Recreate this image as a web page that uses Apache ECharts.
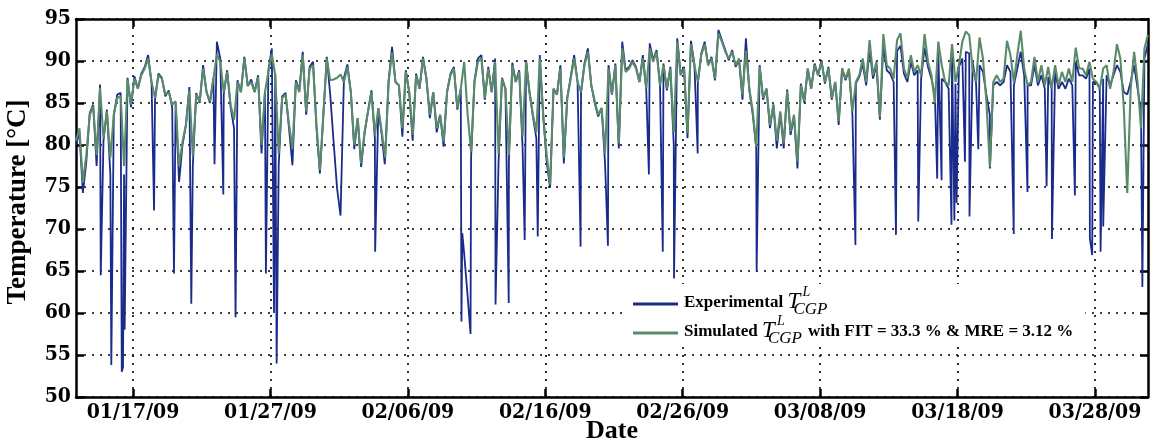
<!DOCTYPE html>
<html><head><meta charset="utf-8">
<script src="https://cdn.jsdelivr.net/npm/echarts@6/dist/echarts.min.js"></script>
<style>html,body{margin:0;padding:0;background:#fff}#c{width:1151px;height:445px}</style>
</head><body><div id="c"></div>
<script>
// x values are days since 2009-01-01 00:00
const sampleStartDay = 11.85;
const sampleStepDays = 0.25;

const simulated = [
80.5,82.0,75.5,78.8,83.6,84.6,78.8,86.8,80.8,84.0,
78.5,83.6,85.6,85.8,77.5,87.8,84.8,87.9,86.7,88.3,
89.1,90.3,87.5,85.6,88.3,87.9,86.0,86.3,84.8,85.2,
77.5,80.4,82.4,86.5,78.8,86.0,85.2,89.1,86.3,85.2,
87.9,90.8,89.9,86.3,88.7,84.8,83.0,87.5,86.3,90.3,
87.1,87.5,86.3,88.1,80.0,86.3,88.7,90.8,88.3,79.0,
85.6,86.0,82.5,79.5,87.5,86.3,90.7,84.0,89.1,89.5,
82.4,77.0,83.6,90.3,87.7,87.8,88.0,88.4,87.5,89.3,
86.3,80.0,83.2,77.8,81.6,84.0,86.3,81.2,84.4,81.6,
78.5,87.5,91.0,87.5,87.1,82.0,88.7,86.3,81.2,88.3,
86.7,90.3,87.9,83.6,86.3,82.0,83.6,80.4,86.3,88.3,
89.1,84.4,86.7,89.9,83.6,79.2,87.5,89.9,90.3,85.6,
89.1,86.3,89.9,79.0,87.9,86.7,78.8,89.5,87.5,88.7,
81.0,89.9,86.3,83.6,81.5,90.3,83.6,78.8,75.3,86.7,
86.0,89.1,78.5,85.6,87.9,90.3,87.5,86.3,89.5,91.1,
87.1,85.2,83.6,84.4,79.0,89.1,86.0,89.5,80.2,91.5,
88.7,89.1,89.9,89.1,87.5,90.3,86.7,91.5,89.9,91.1,
87.1,89.5,86.7,89.1,81.5,92.3,88.3,89.1,81.4,92.0,
89.5,87.5,90.7,92.0,89.5,90.3,87.9,93.3,92.3,91.1,
90.3,91.1,89.5,90.3,86.0,91.2,86.7,84.0,79.8,89.3,
85.6,86.7,82.4,84.8,80.5,84.0,80.2,86.4,81.6,83.6,
78.0,87.1,85.2,89.1,86.7,89.5,88.3,89.9,87.5,89.1,
85.6,87.5,82.8,89.1,87.9,89.1,84.0,87.5,88.3,90.3,
87.5,92.5,88.3,89.9,83.3,93.2,89.5,89.1,87.9,92.5,
93.3,89.1,87.9,90.7,88.7,89.5,88.3,93.2,89.9,88.3,
85.0,92.3,89.5,87.5,87.1,92.0,87.5,89.5,92.3,93.5,
93.1,89.1,87.5,92.8,90.3,85.2,77.4,87.5,88.3,87.5,
87.9,92.4,90.7,87.5,90.7,93.6,89.1,87.1,87.5,90.5,
87.5,89.5,87.1,89.3,86.7,89.5,87.1,88.7,87.5,89.1,
87.5,91.6,89.1,89.1,88.3,89.9,87.9,87.5,86.7,89.1,
89.5,86.7,88.7,92.0,90.3,84.4,74.3,86.7,91.1,87.5,
82.0,91.5,93.1
];

const experimental = [
80.0,81.5,74.3,78.0,83.8,84.8,77.5,87.2,80.5,84.2,
76.5,83.6,86.0,86.2,76.5,88.0,84.5,88.2,86.7,88.5,
89.3,90.7,87.3,85.4,88.5,88.0,85.8,86.5,84.5,85.0,
75.6,80.0,82.4,86.9,77.5,86.2,85.0,89.5,86.3,85.0,
88.0,92.3,90.3,86.0,88.9,84.5,82.0,87.7,86.3,90.5,
87.0,87.8,86.3,88.3,79.0,86.3,88.9,91.5,88.5,77.6,
85.8,86.2,82.0,77.6,87.7,86.5,91.1,83.6,89.3,89.9,
82.0,76.6,83.6,90.5,86.0,80.3,74.8,71.6,88.0,89.6,
86.3,79.5,83.2,77.4,81.4,84.0,86.5,80.8,84.4,81.2,
77.5,87.7,91.7,87.5,87.1,81.0,88.9,86.3,80.5,88.5,
86.7,90.5,87.9,83.2,86.3,81.5,83.6,79.8,86.3,88.5,
89.3,84.2,86.7,67.0,62.0,78.5,87.7,90.3,90.7,85.4,
89.3,86.3,90.3,78.0,88.0,86.7,78.0,89.8,87.5,88.9,
79.6,90.1,86.3,83.4,80.8,90.7,83.4,78.0,74.9,86.7,
86.0,89.5,77.8,85.6,88.1,90.7,87.5,86.3,89.7,91.5,
87.1,85.0,83.4,84.4,77.8,89.5,86.0,89.7,79.6,92.3,
88.9,89.3,90.1,89.3,87.5,90.7,86.5,92.1,90.1,91.3,
87.1,89.7,86.5,89.3,80.0,92.7,88.5,89.3,80.8,92.4,
89.7,87.3,90.9,92.3,89.5,90.5,87.7,93.7,92.5,91.3,
90.1,91.3,89.3,90.1,85.4,92.7,86.5,83.6,79.6,89.5,
85.4,86.7,82.0,84.8,79.6,83.8,79.6,86.6,81.2,83.4,
77.2,87.3,85.0,89.1,86.7,89.7,88.3,90.1,87.3,89.3,
85.4,87.5,82.4,89.1,87.7,88.9,83.6,87.3,88.1,89.7,
87.1,91.4,87.9,89.5,83.0,91.8,88.9,88.5,87.5,91.2,
91.8,88.5,87.5,89.9,88.3,88.9,87.9,91.6,89.3,87.9,
86.0,91.1,87.9,87.5,86.7,91.5,87.3,89.3,90.3,91.1,
90.9,89.9,87.3,89.5,88.7,86.0,83.6,87.1,87.5,87.1,
87.5,89.5,88.7,87.1,89.1,91.1,88.3,87.1,87.1,89.5,
87.1,88.3,86.7,88.1,86.7,88.7,86.7,87.5,86.7,87.9,
87.1,89.9,88.3,88.3,87.9,89.1,87.5,87.5,86.7,87.9,
88.3,87.1,88.3,89.5,88.7,86.3,86.0,87.5,89.5,86.7,
84.0,90.3,92.0
];

// short drops of the measured temperature (days since 2009-01-01, value)
const dropDays = [13.65,14.42,15.18,15.27,15.39,17.53,18.98,20.24,21.93,22.57,23.46,25.67,26.26,26.45,
  33.62,34.32,39.90,39.96,40.56,42.38,43.34,44.50,45.45,48.57,50.56,53.54,54.55,55.37,57.09,61.38,
  68.57,71.52,73.14,74.52,74.84,75.56,75.77,75.93,76.54,76.87,77.51,78.36,80.09,81.09,82.48,82.87,
  84.54,85.63,85.80,86.41,86.60,89.45];
const dropValues = [64.5,53.8,53.0,53.5,58.0,72.2,64.7,61.1,77.7,74.1,59.5,64.7,60.0,54.0,
  67.3,77.7,59.0,69.5,57.5,61.0,61.2,68.7,69.1,67.9,68.0,76.5,67.3,64.1,79.0,64.9,
  68.1,69.3,70.9,76.0,75.8,70.5,71.0,73.1,78.0,71.5,79.5,77.2,69.4,74.4,75.1,68.8,
  74.0,68.9,66.9,67.3,70.3,63.1];

const tickDays = [16,26,36,46,56,66,76,86];
const tickLabels = ['01/17/09','01/27/09','02/06/09','02/16/09','02/26/09','03/08/09','03/18/09','03/28/09'];
const xMin = 11.85, xMax = 89.86;
const yMin = 50, yMax = 95, yStep = 5;

const simData = simulated.map((v, i) => [sampleStartDay + i * sampleStepDays, v]);
const expData = experimental.map((v, i) => [sampleStartDay + i * sampleStepDays, v])
  .concat(dropDays.map((d, k) => [d, dropValues[k]]))
  .sort((a, b) => a[0] - b[0]);

const SERIF = "'Liberation Serif','Times New Roman',serif";
const TICKF = "'DejaVu Serif Condensed','DejaVu Serif',serif";
const BLUE = '#1a2b8c', GREEN = '#5b8a6b';

const axisLine = {show: true, lineStyle: {color: '#000', width: 2.5}};
const tickStyle = {inside: true, length: 8, lineStyle: {color: '#000', width: 2.5}};
const dotted = {show: true, lineStyle: {color: '#000', width: 1.6, type: [2, 6]}};

const rich = {
  sp: {lineHeight: 40, width: 1, verticalAlign: 'top', fontSize: 10},
  b: {fontFamily: SERIF, fontWeight: 'bold', fontSize: 17, color: '#000', lineHeight: 20, padding: [10, 0, 0, 0], verticalAlign: 'top'},
  T: {fontFamily: SERIF, fontStyle: 'italic', fontSize: 23, color: '#000', lineHeight: 24, padding: [6, 0, 0, 0], width: 6, verticalAlign: 'top'},
  C: {fontFamily: SERIF, fontStyle: 'italic', fontSize: 17, color: '#000', lineHeight: 16, padding: [17, 0, 0, 0], width: 1, verticalAlign: 'top'},
  L: {fontFamily: SERIF, fontStyle: 'italic', fontSize: 14, color: '#000', lineHeight: 14, padding: [1, 0, 0, 8], width: 31, verticalAlign: 'top'}
};

const chart = echarts.init(document.getElementById('c'), null, {renderer: 'canvas'});
chart.setOption({
  animation: false,
  backgroundColor: '#fff',
  grid: {left: 76, right: 3, top: 19, bottom: 48, containLabel: false, outerBoundsMode: 'none'},
  legend: {
    data: ['Experimental', 'Simulated'],
    orient: 'vertical', left: 627, top: 284,
    itemWidth: 45, itemHeight: 3, itemGap: -5, icon: 'rect',
    padding: [0, 12, 0, 6], backgroundColor: '#fff', selectedMode: false,
    formatter: n => n === 'Experimental'
      ? '{sp| }{b|Experimental }{T|T}{C|CGP}{L|L}'
      : '{sp| }{b|Simulated }{T|T}{C|CGP}{L|L}{b|with FIT = 33.3 % & MRE = 3.12 %}',
    textStyle: {rich: rich}
  },
  xAxis: [{
    type: 'value', min: xMin, max: xMax, position: 'bottom',
    axisLine: axisLine,
    axisTick: Object.assign({customValues: tickDays}, tickStyle),
    axisLabel: {customValues: tickDays, margin: 5, color: '#000', fontFamily: TICKF, fontWeight: 'bold', fontSize: 21,
      formatter: v => tickLabels[tickDays.indexOf(Math.round(v))] || ''},
    splitLine: dotted,
    name: 'Date', nameLocation: 'middle', nameGap: 21, nameMoveOverlap: false,
    nameTextStyle: {fontFamily: SERIF, fontWeight: 'bold', fontSize: 26, color: '#000'}
  }, {
    type: 'value', min: xMin, max: xMax, position: 'top',
    axisLine: axisLine,
    axisTick: Object.assign({customValues: tickDays}, tickStyle),
    axisLabel: {show: false}, splitLine: {show: false}
  }],
  yAxis: [{
    type: 'value', min: yMin, max: yMax, interval: yStep,
    axisLine: axisLine, axisTick: tickStyle,
    axisLabel: {margin: 5, color: '#000', fontFamily: TICKF, fontWeight: 'bold', fontSize: 21},
    splitLine: dotted,
    name: 'Temperature [°C]', nameLocation: 'middle', nameRotate: 90, nameGap: 44, nameMoveOverlap: false,
    nameTextStyle: {fontFamily: SERIF, fontWeight: 'bold', fontSize: 27, color: '#000', padding: [0, 0, 0, 12]}
  }, {
    type: 'value', min: yMin, max: yMax, interval: yStep, position: 'right',
    axisLine: axisLine, axisTick: tickStyle,
    axisLabel: {show: false}, splitLine: {show: false}
  }],
  series: [{
    name: 'Experimental', type: 'line', data: expData, symbol: 'none',
    lineStyle: {color: BLUE, width: 1.8}, itemStyle: {color: BLUE}, z: 2
  }, {
    name: 'Simulated', type: 'line', data: simData, symbol: 'none',
    lineStyle: {color: GREEN, width: 2.1}, itemStyle: {color: GREEN}, z: 3
  }]
});
</script></body></html>
